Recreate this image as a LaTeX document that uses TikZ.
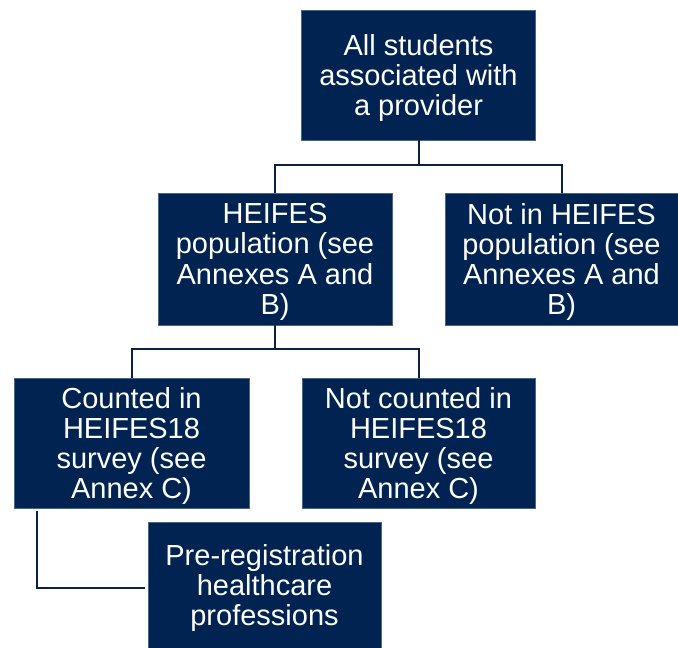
\documentclass[tikz,border=0pt]{standalone}
\usepackage{fontspec}
\setmainfont{Liberation Sans}
\usepackage{tikz}
\usetikzlibrary{positioning}
\definecolor{boxink}{RGB}{0, 35, 82}
\definecolor{linkink}{RGB}{10, 32, 70}

\begin{document}
\begin{tikzpicture}[x=1pt, y=-1pt,
    box/.style={fill=boxink, draw=boxink!70!white, line width=0.6pt, text=white, align=center,
      inner sep=0pt, font=\fontsize{29}{30.3}\selectfont, text depth=0pt},
    link/.style={draw=linkink, line width=2pt}]
  \useasboundingbox (0,0) rectangle (678,648);
  \node[box, minimum width=234, minimum height=130] (all) at (418.5,75) {All students\\associated with\\a provider};
  \node[box, minimum width=234, minimum height=132] (heifes) at (275,259) {HEIFES\\population (see\\Annexes A and\\B)};
  \node[box, minimum width=233, minimum height=132] (notin) at (561.5,259) {Not in HEIFES\\population (see\\Annexes A and\\B)};
  \node[box, minimum width=235, minimum height=130] (counted) at (131.5,443) {Counted in\\HEIFES18\\survey (see\\Annex C)};
  \node[box, minimum width=233, minimum height=130] (notcounted) at (418.5,443) {Not counted in\\HEIFES18\\survey (see\\Annex C)};
  \node[box, minimum width=233, minimum height=126] (prereg) at (264.5,585) {Pre-registration\\healthcare\\professions};
  % tree links
  \draw[link] (all.south) -- ++(0,25) -| (heifes.north);
  \draw[link] (all.south) ++(0,25) -| (notin.north);
  \draw[link] (heifes.south) -- ++(0,24) -| (counted.north);
  \draw[link] (heifes.south) ++(0,24) -| (notcounted.north);
  \draw[link] ([xshift=23pt, yshift=-3pt]counted.south west) |- ([xshift=-3pt, yshift=-3pt]prereg.west);
\end{tikzpicture}
\end{document}
